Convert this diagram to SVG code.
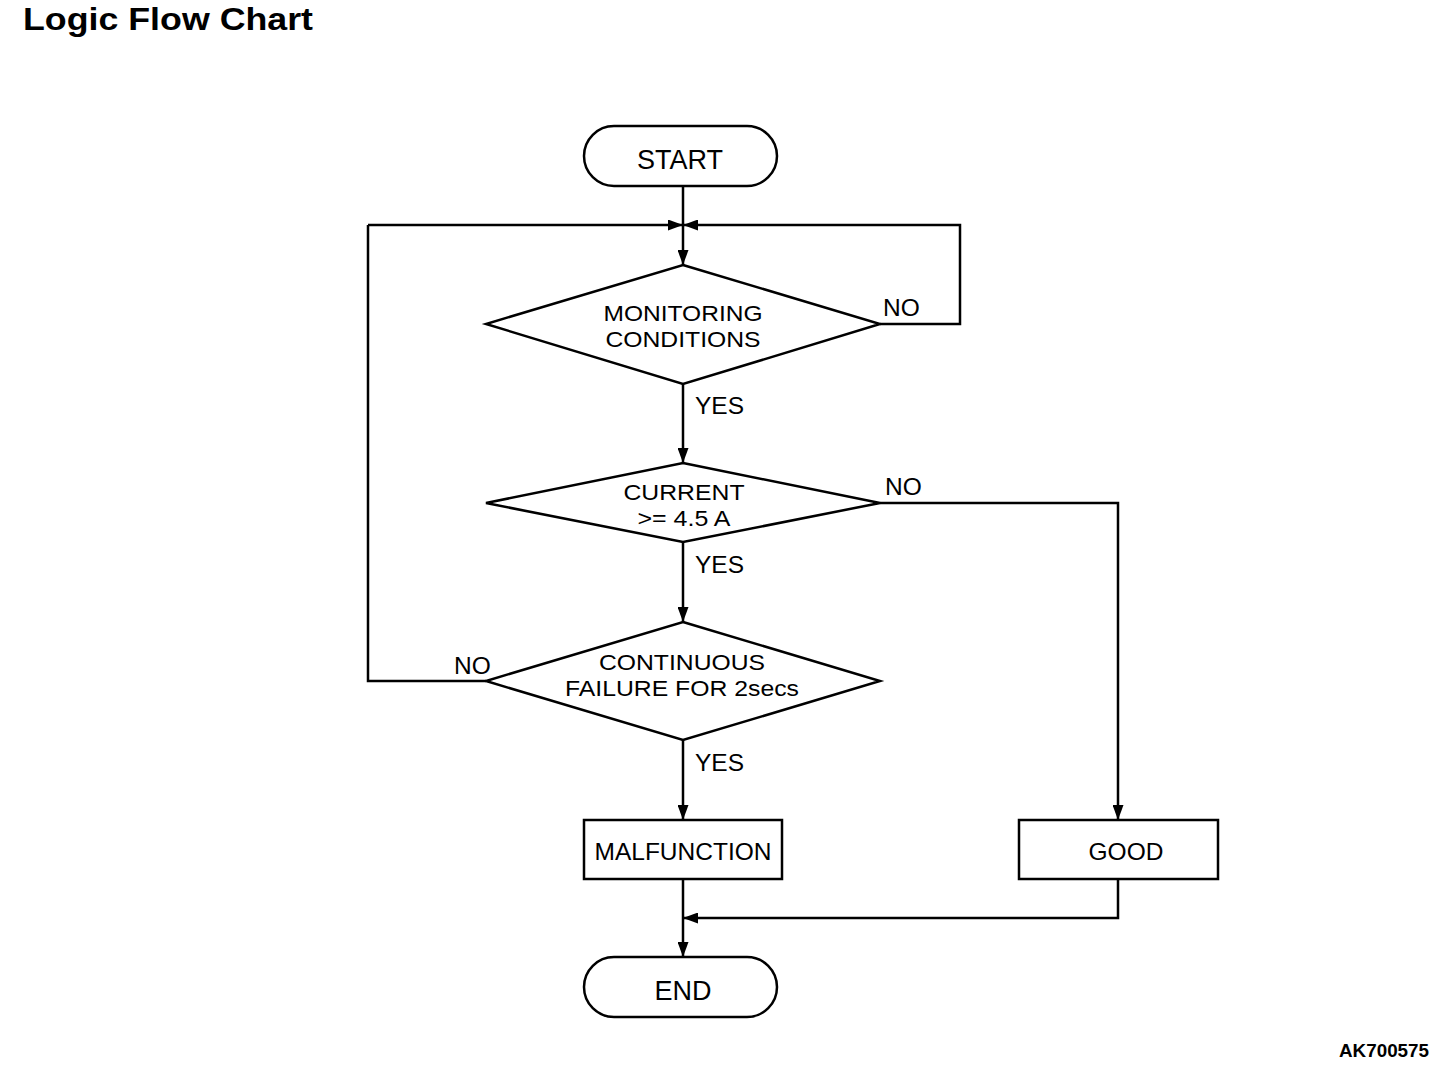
<svg xmlns="http://www.w3.org/2000/svg" width="1456" height="1082" viewBox="0 0 1456 1082">
<style>
.s{fill:#fff;stroke:#000;stroke-width:2.5}
.l{fill:none;stroke:#000;stroke-width:2.5}
.t{font-family:"Liberation Sans",Arial,sans-serif;font-size:24.5px;fill:#000;text-anchor:middle}
.m{font-family:"Liberation Sans",Arial,sans-serif;font-size:22.5px;fill:#000;text-anchor:middle}
.b{font-family:"Liberation Sans",Arial,sans-serif;font-size:27px;fill:#000;text-anchor:middle}
.lb{font-family:"Liberation Sans",Arial,sans-serif;font-size:24.5px;fill:#000}
</style>
<defs>
<marker id="a" viewBox="0 0 15 11" refX="15" refY="5.5" markerWidth="15" markerHeight="11" markerUnits="userSpaceOnUse" orient="auto">
<path d="M0,0 L15,5.5 L0,11 Z" fill="#000"/>
</marker>
</defs>
<rect width="1456" height="1082" fill="#fff"/>
<text x="23" y="30" font-family="Liberation Sans,Arial,sans-serif" font-size="32" font-weight="bold" textLength="290" lengthAdjust="spacingAndGlyphs">Logic Flow Chart</text>
<text x="1339" y="1057" font-family="Liberation Sans,Arial,sans-serif" font-size="19" font-weight="bold" textLength="90" lengthAdjust="spacingAndGlyphs">AK700575</text>
<g id="connectors">
<path class="l" d="M683,186 V265" marker-end="url(#a)"/>
<path class="l" d="M368,225 H683" marker-end="url(#a)"/>
<path class="l" d="M486,681 H368 V225"/>
<path class="l" d="M880,324 H960 V225 H683" marker-end="url(#a)"/>
<path class="l" d="M683,384 V463" marker-end="url(#a)"/>
<path class="l" d="M683,542 V622" marker-end="url(#a)"/>
<path class="l" d="M683,740 V820" marker-end="url(#a)"/>
<path class="l" d="M880,503 H1118 V820" marker-end="url(#a)"/>
<path class="l" d="M683,879 V957" marker-end="url(#a)"/>
<path class="l" d="M1118,879 V918 H683" marker-end="url(#a)"/>
<text class="lb" x="695" y="414">YES</text>
<text class="lb" x="883" y="316">NO</text>
<text class="lb" x="885" y="495">NO</text>
<text class="lb" x="695" y="573">YES</text>
<text class="lb" x="695" y="771">YES</text>
<text class="lb" x="454" y="674">NO</text>
</g>
<g id="start">
<rect class="s" x="584" y="126" width="193" height="60" rx="30"/>
<text class="b" x="680" y="169">START</text>
</g>
<g id="monitoring">
<path class="s" d="M683,265 L880,324 L683,384 L486,324 Z"/>
<text class="m" x="683" y="321" textLength="159" lengthAdjust="spacingAndGlyphs">MONITORING</text>
<text class="m" x="683" y="347" textLength="155" lengthAdjust="spacingAndGlyphs">CONDITIONS</text>
</g>
<g id="current">
<path class="s" d="M683,463 L880,503 L683,542 L486,503 Z"/>
<text class="m" x="684" y="500" textLength="121" lengthAdjust="spacingAndGlyphs">CURRENT</text>
<text class="m" x="684" y="526" textLength="93" lengthAdjust="spacingAndGlyphs">&gt;= 4.5 A</text>
</g>
<g id="continuous">
<path class="s" d="M683,622 L880,681 L683,740 L486,681 Z"/>
<text class="m" x="682" y="670" textLength="166" lengthAdjust="spacingAndGlyphs">CONTINUOUS</text>
<text class="m" x="682" y="696" textLength="234" lengthAdjust="spacingAndGlyphs">FAILURE FOR 2secs</text>
</g>
<g id="malfunction">
<rect class="s" x="584" y="820" width="198" height="59"/>
<text class="t" x="683" y="860">MALFUNCTION</text>
</g>
<g id="good">
<rect class="s" x="1019" y="820" width="199" height="59"/>
<text class="t" x="1126" y="860">GOOD</text>
</g>
<g id="end">
<rect class="s" x="584" y="957" width="193" height="60" rx="30"/>
<text class="b" x="683" y="1000">END</text>
</g>
</svg>
